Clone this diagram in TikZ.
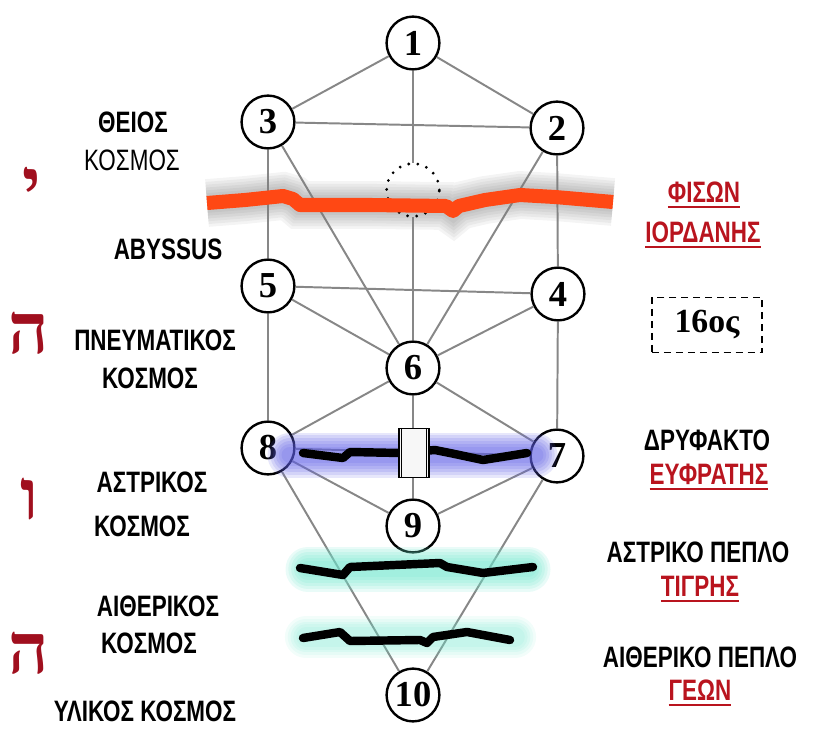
\documentclass[tikz,border=0pt]{standalone}
\usepackage{fontspec}
\setmainfont{Liberation Serif}
\newfontfamily\worldfont[FakeStretch=0.76]{Liberation Sans}
\newfontfamily\hebfont[Script=Hebrew]{Liberation Serif}
\TeXXeTstate=1
\definecolor{rivred}{RGB}{185,20,30}
\definecolor{hebred}{RGB}{160,15,30}
\definecolor{fire}{RGB}{255,72,20}
\definecolor{astral}{RGB}{95,95,230}
\definecolor{ether}{RGB}{110,230,205}
\definecolor{edgegray}{RGB}{135,135,135}
\newsavebox\riverbox
\newcommand\riverword[1]{\sbox\riverbox{#1}\rlap{\rule[-3.5pt]{\wd\riverbox}{1.3pt}}\usebox\riverbox}
\newcommand\abysspath{(207,203) -- (245,200) -- (283,196) -- (293,199)
    -- (300,205) -- (370,205) -- (446,206) -- (453,211) -- (459,206)
    -- (485,200) -- (520,195) -- (555,197) -- (613,202)}
\tikzstyle{sefira} = [
  draw,
  circle,
  fill=white,
  line width=1.7pt,
  minimum size=1.32cm,
  inner sep=0pt,
  font=\fontsize{26}{26}\selectfont\bfseries,
]
\tikzstyle{hidden} = [
  draw,
  circle,
  line width=2.2pt,
  line cap=round,
  dash pattern=on 0pt off 6.5pt,
  minimum size=1.32cm,
]
\tikzstyle{channel} = [
  color=edgegray,
  line width=1.4pt,
]
\tikzstyle{gate} = [
  draw,
  rectangle,
  fill=gray!6,
  line width=0.9pt,
  minimum width=0.75cm,
  minimum height=1.22cm,
]
\tikzstyle{world} = [
  inner sep=0pt,
  font=\worldfont\fontsize{21}{23}\selectfont\bfseries,
]
\tikzstyle{worldthin} = [
  inner sep=0pt,
  font=\worldfont\fontsize{21}{23}\selectfont,
]
\tikzstyle{river} = [
  world,
  text=rivred,
]
\tikzstyle{letter} = [
  inner sep=0pt,
  text=hebred,
  font=\hebfont\fontsize{50}{50}\selectfont\bfseries,
]
\tikzstyle{yearbox} = [
  draw,
  dash pattern=on 5pt off 3.5pt,
  line width=1pt,
  minimum width=2.75cm,
  minimum height=1.38cm,
  font=\fontsize{24}{24}\selectfont\bfseries,
]
\tikzstyle{veil} = [
  line width=6pt,
  line cap=round,
  line join=round,
]
\tikzstyle{fireshadow} = [
  line join=round,
  preaction={draw=gray, line width=34pt, opacity=.09},
  preaction={draw=gray, line width=30pt, opacity=.09},
  preaction={draw=gray, line width=26pt, opacity=.09},
  preaction={draw=gray, line width=22pt, opacity=.1},
  preaction={draw=gray, line width=18pt, opacity=.1},
  preaction={draw=gray, line width=14pt, opacity=.1},
]
\tikzstyle{firewall} = [
  draw=fire,
  line width=10pt,
  line join=round,
]
\tikzstyle{glow} = [
  preaction={draw=#1, line width=32pt, opacity=.15, line cap=round},
  preaction={draw=#1, line width=28pt, opacity=.15, line cap=round},
  preaction={draw=#1, line width=24pt, opacity=.16, line cap=round},
  preaction={draw=#1, line width=20pt, opacity=.16, line cap=round},
  preaction={draw=#1, line width=16pt, opacity=.16, line cap=round},
  preaction={draw=#1, line width=12pt, opacity=.16, line cap=round},
]
\tikzstyle{faintglow} = [
  preaction={draw=#1, line width=30pt, opacity=.09, line cap=round},
  preaction={draw=#1, line width=26pt, opacity=.09, line cap=round},
  preaction={draw=#1, line width=22pt, opacity=.1, line cap=round},
  preaction={draw=#1, line width=18pt, opacity=.1, line cap=round},
  preaction={draw=#1, line width=14pt, opacity=.1, line cap=round},
]

\begin{document}
\begin{tikzpicture}[
    x={(0.025cm,0)},
    y={(0,-0.025cm)},
  ]
  \useasboundingbox (0,0) rectangle (816,729);

  % the ten sefirot and daath
  \node[sefira] (s1) at (413,43) {1};
  \node[sefira] (s2) at (557,128) {2};
  \node[sefira] (s3) at (268,122) {3};
  \node[minimum size=1.32cm, circle] (daath) at (413,190) {};
  \node[sefira] (s4) at (558,294) {4};
  \node[sefira] (s5) at (268,286) {5};
  \node[sefira] (s6) at (413,368) {6};
  \node[sefira] (s7) at (557,456) {7};
  \node[sefira] (s8) at (268,448) {8};
  \node[sefira] (s9) at (413,526) {9};
  \node[sefira] (s10) at (413,695) {10};

  \path[channel]
    (s1) edge (s2) edge (s3) edge (daath)
    (s2) edge (s3) edge (s4) edge (s6)
    (s3) edge (s5) edge (s6)
    (daath) edge (s6)
    (s4) edge (s5) edge (s6) edge (s7)
    (s5) edge (s6) edge (s8)
    (s6) edge (s7) edge (s8) edge (s9)
    (s7) edge (s8) edge (s9) edge (s10)
    (s8) edge (s9) edge (s10);

  % abyss
  \path[fireshadow] \abysspath;
  \node[hidden] at (daath) {};
  \draw[firewall] \abysspath;

  % glows
  \path[glow=astral] (290,455) -- (535,455);
  \path[glow=ether] (308,569) -- (528,569);
  \path[faintglow=ether] (306,637) -- (515,637);

  % veils
  \draw[veil] (303,453) -- (343,458) -- (350,452) -- (400,453)
    -- (435,450) -- (450,453) -- (483,460) -- (527,453);
  \draw[veil] (300,568) -- (343,575) -- (350,567) -- (440,563)
    -- (447,567) -- (483,573) -- (533,567);
  \draw[veil] (303,638) -- (340,632) -- (350,641) -- (420,640)
    -- (427,643) -- (433,637) -- (467,632) -- (510,640);

  \node[gate] (gate) at (414,453) {};
  \draw[line width=0.6pt] ([xshift=2.5pt]gate.north west)
    -- ([xshift=2.5pt]gate.south west);
  \draw[line width=0.6pt] ([xshift=-2.5pt]gate.north east)
    -- ([xshift=-2.5pt]gate.south east);

  % worlds
  \node[world] (theios) at (133,122) {ΘΕΙΟΣ};
  \node[worldthin] (kosmos1) at (132,160) {ΚΟΣΜΟΣ};
  \node[world] (abyssus) at (168,249) {ABYSSUS};
  \node[world] (pneuma) at (155,340) {ΠΝΕΥΜΑΤΙΚΟΣ};
  \node[world] (kosmos2) at (150,378) {ΚΟΣΜΟΣ};
  \node[world] (astralw) at (152,482) {ΑΣΤΡΙΚΟΣ};
  \node[world] (kosmos3) at (142,526) {ΚΟΣΜΟΣ};
  \node[world] (etherw) at (158,606) {ΑΙΘΕΡΙΚΟΣ};
  \node[world] (kosmos4) at (149,643) {ΚΟΣΜΟΣ};
  \node[world] (hylic) at (145,711) {ΥΛΙΚΟΣ ΚΟΣΜΟΣ};

  \node[letter] (yod) at (32,188) {\beginR י\endR};
  \node[letter] (he1) at (29,333) {\beginR ה\endR};
  \node[letter] (vav) at (29,499) {\beginR ו\endR};
  \node[letter] (he2) at (29,653) {\beginR ה\endR};

  % rivers and veils
  \node[river] (phison) at (704,195) {\riverword{ΦΙΣΩΝ}};
  \node[river] (jordan) at (703,235) {\riverword{ΙΟΡΔΑΝΗΣ}};
  \node[yearbox] (century) at (707,325) {16ος};
  \node[world] (rail) at (707,440) {ΔΡΥΦΑΚΤΟ};
  \node[river] (euphrates) at (709,477) {\riverword{ΕΥΦΡΑΤΗΣ}};
  \node[world] (astralveil) at (698,552) {ΑΣΤΡΙΚΟ ΠΕΠΛΟ};
  \node[river] (tigris) at (700,589) {\riverword{ΤΙΓΡΗΣ}};
  \node[world] (etherveil) at (700,657) {ΑΙΘΕΡΙΚΟ ΠΕΠΛΟ};
  \node[river] (geon) at (700,693) {\riverword{ΓΕΩΝ}};
\end{tikzpicture}
\end{document}
